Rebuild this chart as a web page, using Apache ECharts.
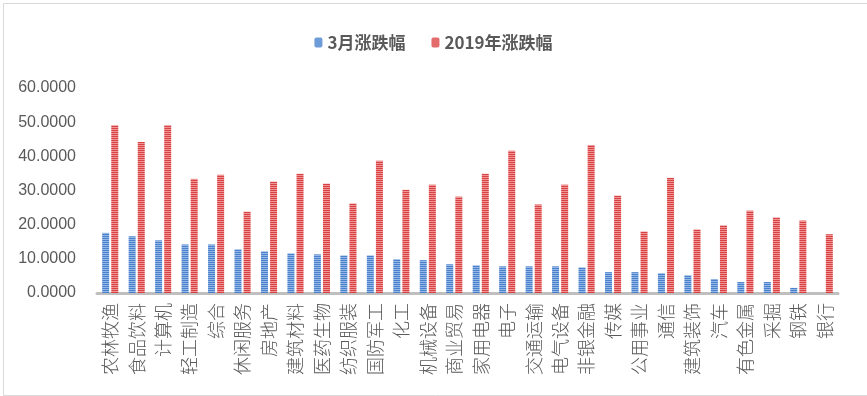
<!DOCTYPE html>
<html>
<head>
<meta charset="utf-8">
<script src="https://cdn.jsdelivr.net/npm/echarts@6/dist/echarts.min.js"></script>
<style>
html,body{margin:0;padding:0;background:#fff;}
#chart{width:867px;height:396px;}
</style>
</head>
<body>
<div id="chart"></div>
<script>
var categories = ['农林牧渔','食品饮料','计算机','轻工制造','综合','休闲服务','房地产','建筑材料','医药生物','纺织服装','国防军工','化工','机械设备','商业贸易','家用电器','电子','交通运输','电气设备','非银金融','传媒','公用事业','通信','建筑装饰','汽车','有色金属','采掘','钢铁','银行'];
var marchChange = [17.6,16.6,15.4,14.2,14.2,12.8,12.2,11.6,11.3,11.0,11.0,9.9,9.6,8.4,8.1,7.8,7.8,7.8,7.5,6.1,6.1,5.8,5.2,4.1,3.2,3.2,1.5,0];
var yearChange = [49.1,44.2,49.1,33.4,34.6,23.8,32.6,34.9,32.0,26.2,38.7,30.2,31.7,28.2,34.9,41.6,25.9,31.7,43.3,28.5,18.0,33.7,18.6,19.8,24.1,22.1,21.2,17.2];
var seriesNames = ['3月涨跌幅','2019年涨跌幅'];

function stripe(dark, light) {
  var c = document.createElement('canvas');
  c.width = 4; c.height = 2;
  var ctx = c.getContext('2d');
  ctx.fillStyle = dark; ctx.fillRect(0,0,4,1);
  ctx.fillStyle = light; ctx.fillRect(0,1,4,1);
  return {image: c, repeat: 'repeat'};
}
var bluePat = stripe('#4a80cc', '#93b8e6');
var redPat = stripe('#d94242', '#ef9595');

var chart = echarts.init(document.getElementById('chart'));
chart.setOption({
  animation: false,
  backgroundColor: '#fff',
  graphic: [{
    type: 'rect', left: 1, top: 1,
    shape: {x: 0, y: 0, width: 864, height: 392},
    style: {fill: 'none', stroke: '#d9d9d9', lineWidth: 1}
  }],
  legend: {
    top: 29, left: 'center',
    itemWidth: 8, itemHeight: 10, itemGap: 26,
    textStyle: {fontSize: 17, fontWeight: 'bold', color: '#595959', fontFamily: 'Noto Sans CJK SC'},
    data: seriesNames
  },
  grid: {left: 97, right: 29, top: 88, bottom: 103, containLabel: false},
  xAxis: {
    type: 'category', data: categories,
    axisLine: {lineStyle: {color: '#bfbfbf', width: 3}},
    axisTick: {show: false},
    axisLabel: {rotate: 90, interval: 0, margin: 10, fontSize: 18, color: '#595959', fontFamily: 'Noto Sans CJK SC', fontWeight: 300}
  },
  yAxis: {
    type: 'value', min: 0, max: 60, interval: 10,
    axisLine: {show: false}, axisTick: {show: false},
    splitLine: {show: false},
    axisLabel: {margin: 21, fontSize: 16, color: '#595959', fontFamily: 'Liberation Sans',
      formatter: function(v){ return v.toFixed(4); }}
  },
  series: [
    {name: seriesNames[0], type: 'bar', data: marchChange, barWidth: 7, barGap: '30%', itemStyle: {color: bluePat}},
    {name: seriesNames[1], type: 'bar', data: yearChange, barWidth: 7, barGap: '30%', itemStyle: {color: redPat}}
  ]
});
</script>
</body>
</html>
